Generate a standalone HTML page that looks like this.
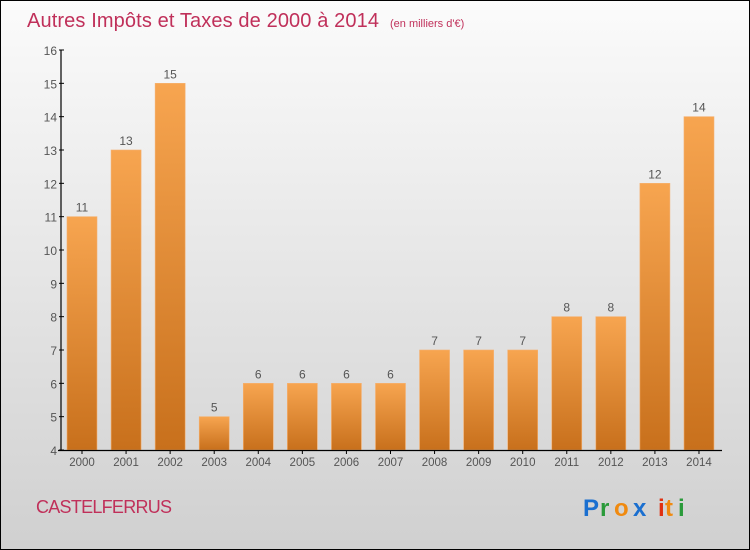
<!DOCTYPE html>
<html><head><meta charset="utf-8"><style>
body{margin:0;width:750px;height:550px;overflow:hidden;font-family:"Liberation Sans",sans-serif}
#wrap{position:absolute;left:0;top:0;width:748px;height:548px;border:1px solid #000;background:linear-gradient(#fbfbfb,#d0d0d0)}
</style></head><body>
<div id="wrap">
<svg width="750" height="550" style="position:absolute;left:-1px;top:-1px" id="svg">
<defs><linearGradient id="bg" x1="0" y1="0" x2="0" y2="1"><stop offset="0" stop-color="#f7a550"/><stop offset="1" stop-color="#c8701c"/></linearGradient></defs>
<text x="27" y="27" font-size="20" fill="#c0305a" textLength="352">Autres Impôts et Taxes de 2000 à 2014</text>
<text x="390" y="27" font-size="11" fill="#c0305a">(en milliers d'€)</text>
<text x="36" y="513" font-size="18" fill="#c0305a" textLength="136">CASTELFERRUS</text>
<g font-size="24" font-weight="bold">
<text x="583" y="516" fill="#1a6fd0">P</text><text x="600" y="516" fill="#2a9a3a">r</text><text x="614" y="516" fill="#f08a10">o</text><text x="633" y="516" fill="#1a6fd0">x</text><text x="658" y="516" fill="#e03010">i</text><text x="665" y="516" fill="#f08a10">t</text><text x="678" y="516" fill="#2a9a3a">i</text></g>
<g id="plot"></g>
</svg></div>
<script>
const categories=["2000","2001","2002","2003","2004","2005","2006","2007","2008","2009","2010","2011","2012","2013","2014"];
const values=[11,13,15,5,6,6,6,6,7,7,7,8,8,12,14];
const yTicks=[4,5,6,7,8,9,10,11,12,13,14,15,16];
const y=v=>450-(v-4)*400/12;
const xc=i=>82+i*44.07;
const g=document.getElementById('plot');
const NS="http://www.w3.org/2000/svg";
function mk(t,a,txt){const e=document.createElementNS(NS,t);for(const k in a)e.setAttribute(k,a[k]);if(txt!==undefined)e.textContent=txt;g.appendChild(e);return e;}
values.forEach((v,i)=>{
 const r=mk('rect',{x:xc(i)-15,y:y(v),width:30,height:450-y(v),fill:'url(#bg)',stroke:'#f5b070','stroke-width':0.6});
 
 
 const t=mk('text',{x:xc(i),y:y(v)-5,'text-anchor':'middle','font-size':12,fill:'#555'},v);
 
 
 const c=mk('text',{x:xc(i),y:466,'text-anchor':'middle','font-size':11.5,fill:'#555'},categories[i]);
 
 
 mk('line',{x1:xc(i),x2:xc(i),y1:450,y2:454,stroke:'#000'});
});
yTicks.forEach(v=>{
 mk('line',{x1:59,x2:64,y1:y(v),y2:y(v),stroke:'#000'});
 const t=mk('text',{x:57,y:y(v)+5,'text-anchor':'end','font-size':12,fill:'#555'},v);
 
 
});
const ya=mk('line',{x1:61,x2:61,y1:50,y2:451,stroke:'#000','stroke-width':1.2});


const xa=mk('line',{x1:58,x2:722,y1:450.5,y2:450.5,stroke:'#000','stroke-width':1.2});


</script>
</body></html>
